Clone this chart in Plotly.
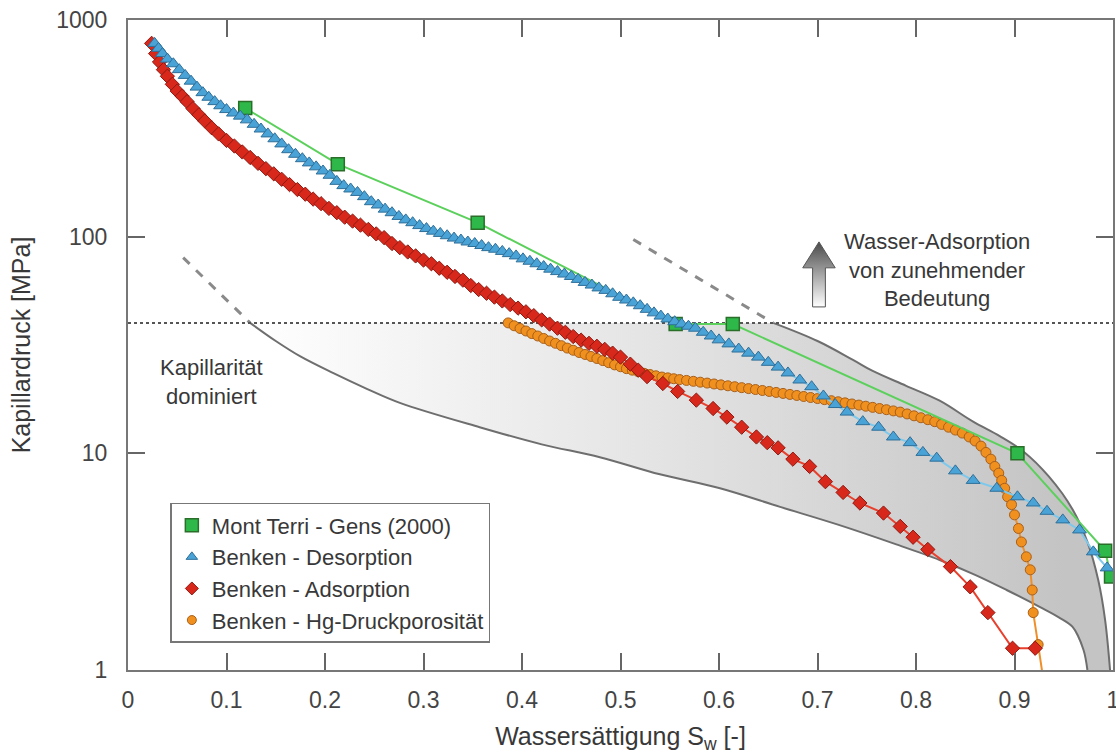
import plotly.graph_objects as go

# ---------------- data ----------------
gens_x = [0.119, 0.213, 0.355, 0.556, 0.614, 0.903, 0.992, 0.998]
gens_y = [392, 216, 116, 39.5, 39.5, 10.0, 3.55, 2.7]

des_x = [0.027, 0.031, 0.035, 0.040, 0.046, 0.052, 0.058, 0.064, 0.070, 0.076,
         0.082, 0.088, 0.094, 0.100, 0.107, 0.114, 0.121, 0.128, 0.135, 0.142,
         0.149, 0.156, 0.163, 0.170, 0.177, 0.184, 0.191, 0.198, 0.205, 0.212,
         0.219, 0.226, 0.233, 0.240, 0.247, 0.254, 0.261, 0.268, 0.275, 0.282,
         0.289, 0.296, 0.303, 0.310, 0.317, 0.324, 0.331, 0.338, 0.345, 0.352,
         0.359, 0.366, 0.373, 0.380, 0.387, 0.394, 0.401, 0.408, 0.415, 0.422,
         0.429, 0.436, 0.443, 0.450, 0.457, 0.464, 0.471, 0.478, 0.485, 0.492,
         0.499, 0.506, 0.513, 0.520, 0.527, 0.534, 0.541, 0.548, 0.555, 0.562,
         0.569, 0.576, 0.584, 0.592, 0.600, 0.610, 0.620, 0.630, 0.640, 0.650,
         0.660, 0.670, 0.682, 0.694, 0.706, 0.718, 0.730, 0.746, 0.762, 0.777,
         0.794, 0.807, 0.821, 0.840, 0.858, 0.882, 0.903, 0.919, 0.933, 0.949,
         0.966, 0.980, 0.994]
des_y = [780, 740, 700, 660, 628, 590, 555, 522, 490, 462,
         440, 420, 402, 386, 372, 360, 346, 330, 314, 298,
         283, 268, 252, 240, 229, 219, 210, 201, 192, 180,
         172, 166, 160, 153, 145, 140, 134, 129, 124, 119.5,
         116, 112.5, 109, 106, 103.5, 101, 98.5, 96.5, 94.5, 93,
         91, 89, 87.5, 85.5, 83.5, 81.5, 79, 77, 75, 72.8,
         70.8, 69, 67.2, 65.5, 63.5, 61.5, 59.8, 58, 56.5, 54.5,
         52.5, 51, 49.5, 48, 46.2, 44.5, 43, 41.7, 40.5, 39.5,
         38.6, 37.8, 36.2, 34.8, 33.4, 32, 30.3, 29.0, 27.8, 26.3,
         25.0, 23.5, 21.8, 20.3, 18.4, 16.8, 15.5, 14.0, 13.2, 11.9,
         11.2, 10.1, 9.5, 8.3, 7.5, 6.9, 6.3, 5.9, 5.4, 4.93,
         4.43, 3.51, 2.96]

ads_x = [0.024, 0.028, 0.032, 0.036, 0.040, 0.045, 0.050, 0.055, 0.060, 0.066,
         0.072, 0.078, 0.085, 0.092, 0.100, 0.108, 0.116, 0.124, 0.132, 0.140,
         0.148, 0.156, 0.164, 0.172, 0.180, 0.188, 0.196, 0.204, 0.212, 0.220,
         0.228, 0.236, 0.244, 0.252, 0.260, 0.268, 0.276, 0.284, 0.292, 0.300,
         0.308, 0.316, 0.324, 0.332, 0.340, 0.348, 0.356, 0.364, 0.372, 0.380,
         0.388, 0.396, 0.404, 0.412, 0.420, 0.428, 0.436, 0.444, 0.452, 0.460,
         0.468, 0.476, 0.484, 0.492, 0.500, 0.510, 0.518, 0.527, 0.543, 0.558,
         0.577, 0.594, 0.608, 0.623, 0.638, 0.649, 0.660, 0.675, 0.692, 0.708,
         0.726, 0.743, 0.767, 0.784, 0.797, 0.812, 0.835, 0.855, 0.873, 0.898,
         0.921]
ads_y = [780, 700, 640, 590, 550, 505, 470, 445, 420, 390,
         365, 342, 318, 298, 278, 262, 246, 232, 218, 206,
         195, 184, 174, 165, 157, 149, 142, 135, 129, 123,
         118, 113, 108, 103, 99, 93, 89, 85, 81.5, 78,
         75, 71.5, 68.5, 65.5, 63, 59.5, 57, 54.8, 52.6, 50.5,
         48.6, 46.8, 45, 43.2, 41.3, 39.5, 37.8, 36.2, 34.6, 33.3,
         32.2, 31.2, 30.2, 29.0, 27.8, 25.8, 24.2, 22.6, 21.0, 19.3,
         17.6, 16.1, 14.7, 13.2, 11.9, 11.2, 10.6, 9.4, 8.7, 7.4,
         6.6, 5.9, 5.3, 4.6, 4.1, 3.6, 3.0, 2.42, 1.84, 1.26,
         1.26]

hg_x = [0.386, 0.392, 0.398, 0.404, 0.410, 0.416, 0.422, 0.428, 0.434, 0.440,
        0.446, 0.452, 0.458, 0.464, 0.470, 0.476, 0.482, 0.488, 0.494, 0.500,
        0.506, 0.512, 0.518, 0.524, 0.530, 0.536, 0.542, 0.548, 0.554, 0.560,
        0.567, 0.574, 0.581, 0.588, 0.595, 0.602, 0.609, 0.616, 0.623, 0.630,
        0.637, 0.644, 0.651, 0.658, 0.665, 0.672, 0.679, 0.686, 0.693, 0.700,
        0.707, 0.714, 0.721, 0.728, 0.735, 0.742, 0.749, 0.756, 0.763, 0.770,
        0.777, 0.784, 0.791, 0.798, 0.805, 0.812, 0.819, 0.826, 0.833, 0.840,
        0.847, 0.854, 0.860, 0.866, 0.871, 0.876, 0.880, 0.884, 0.887, 0.890,
        0.893, 0.897, 0.900, 0.904, 0.907, 0.912, 0.916, 0.918, 0.919, 0.924,
        0.931]
hg_y = [40, 38.8, 37.7, 36.7, 35.7, 34.8, 33.9, 33.0, 32.2, 31.4,
        30.6, 29.9, 29.2, 28.6, 28.0, 27.4, 26.8, 26.2, 25.6, 25.1,
        24.6, 24.2, 23.8, 23.4, 23.1, 22.8, 22.5, 22.3, 22.1, 21.9,
        21.7, 21.5, 21.3, 21.1, 20.9, 20.7, 20.5, 20.3, 20.1, 19.9,
        19.7, 19.5, 19.3, 19.1, 18.9, 18.7, 18.5, 18.3, 18.1, 17.9,
        17.7, 17.5, 17.3, 17.1, 16.9, 16.7, 16.5, 16.3, 16.1, 15.9,
        15.7, 15.5, 15.2, 14.9, 14.6, 14.3, 14.0, 13.6, 13.2, 12.8,
        12.4, 11.9, 11.4, 10.8, 10.1, 9.4, 8.7, 8.1, 7.5, 6.9,
        6.3, 5.8, 5.2, 4.5, 3.9, 3.33, 2.9, 2.34, 1.84, 1.31,
        0.8]

# boundary curves of the shaded band
low_x = [0.124, 0.150, 0.175, 0.208, 0.243, 0.276, 0.357, 0.420, 0.479, 0.540,
         0.601, 0.662, 0.720, 0.780, 0.824, 0.860, 0.892, 0.926, 0.945, 0.959,
         0.970, 0.974]
low_y = [40, 33, 28, 23.5, 19.8, 17.1, 13.2, 11.0, 9.6, 8.0,
         6.9, 5.66, 4.7, 3.8, 3.22, 2.75, 2.34, 1.95, 1.75, 1.58,
         1.24, 1.0]
up_x = [0.655, 0.700, 0.736, 0.756, 0.790, 0.824, 0.858, 0.885, 0.909, 0.935,
        0.959, 0.974, 0.985, 0.992, 0.997]
up_y = [40, 33, 27, 24, 20.5, 17.5, 14, 12, 10.2, 7.8,
        5.5, 3.9, 2.6, 1.7, 1.0]
low_dash_x = [0.056, 0.124]
low_dash_y = [80, 40]
up_dash_x = [0.513, 0.655]
up_dash_y = [97, 40]

threshold = 40  # MPa dotted line

x_ticks = [0, 0.1, 0.2, 0.3, 0.4, 0.5, 0.6, 0.7, 0.8, 0.9, 1]
x_tick_text = ["0", "0.1", "0.2", "0.3", "0.4", "0.5", "0.6", "0.7", "0.8", "0.9", "1"]
y_ticks = [1, 10, 100, 1000]
y_tick_text = ["1", "10", "100", "1000"]

legend_names = ["Mont Terri - Gens (2000)", "Benken - Desorption",
                "Benken - Adsorption", "Benken - Hg-Druckporosität"]

FONT = "Liberation Sans, Arial, Helvetica, sans-serif"
TXT = "#383838"
GRAY = "#6e6e6e"

fig = go.Figure()

# shaded band (polygon built from the boundary curves)
band_x = [low_x[0]] + up_x + low_x[::-1]
band_y = [threshold] + up_y + low_y[::-1]
fig.add_trace(go.Scatter(
    x=band_x, y=band_y, mode="lines", fill="toself",
    line=dict(width=0, color="rgba(0,0,0,0)"),
    fillgradient=dict(type="horizontal", start=0.12, stop=0.95,
                      colorscale=[[0, "rgba(255,255,255,1)"], [0.5, "#e4e4e4"], [1, "#c4c4c4"]]),
    hoverinfo="skip", showlegend=False))

# boundary lines
fig.add_trace(go.Scatter(x=low_x, y=low_y, mode="lines", line=dict(color=GRAY, width=2),
                         line_shape="spline", showlegend=False, hoverinfo="skip"))
fig.add_trace(go.Scatter(x=up_x, y=up_y, mode="lines", line=dict(color=GRAY, width=2),
                         line_shape="spline", showlegend=False, hoverinfo="skip"))
fig.add_trace(go.Scatter(x=low_dash_x, y=low_dash_y, mode="lines",
                         line=dict(color="#8a8a8a", width=3, dash="dash"),
                         showlegend=False, hoverinfo="skip"))
fig.add_trace(go.Scatter(x=up_dash_x, y=up_dash_y, mode="lines",
                         line=dict(color="#8a8a8a", width=3, dash="dash"),
                         showlegend=False, hoverinfo="skip"))

# dotted threshold line
fig.add_trace(go.Scatter(x=[0, 1], y=[threshold, threshold], mode="lines",
                         line=dict(color="#555555", width=2, dash="dot"),
                         showlegend=False, hoverinfo="skip"))

# arrow (decoration)
arr_x = [0.7015, 0.718, 0.708, 0.708, 0.695, 0.695, 0.685, 0.7015]
arr_y = [94.6, 71.8, 71.8, 47.4, 47.4, 71.8, 71.8, 94.6]
fig.add_trace(go.Scatter(
    x=arr_x, y=arr_y, mode="lines", fill="toself",
    line=dict(color="#555555", width=1),
    fillgradient=dict(type="vertical", colorscale=[[0, "#ffffff"], [1, "#4a4a4a"]]),
    showlegend=False, hoverinfo="skip"))

# data series
fig.add_trace(go.Scatter(
    x=hg_x, y=hg_y, mode="lines+markers", showlegend=False,
    line=dict(color="#f08f2a", width=2),
    marker=dict(symbol="circle", size=10, color="#f0901e", line=dict(color="#a8601c", width=1))))
fig.add_trace(go.Scatter(
    x=ads_x, y=ads_y, mode="lines+markers", showlegend=False,
    line=dict(color="#e8402e", width=2),
    marker=dict(symbol="diamond", size=11, color="#d8281c", line=dict(color="#8e1a12", width=1))))
fig.add_trace(go.Scatter(
    x=gens_x, y=gens_y, mode="lines+markers", showlegend=False,
    line=dict(color="#5cd05c", width=2),
    marker=dict(symbol="square", size=13, color="#2eb84a", line=dict(color="#2a6e2a", width=1.5))))
fig.add_trace(go.Scatter(
    x=des_x, y=des_y, mode="lines+markers", showlegend=False,
    line=dict(color="#7ec8ec", width=2),
    marker=dict(symbol="triangle-up", size=12, color="#4aa3d6", line=dict(color="#2e6f99", width=1))))

# legend-only entries (markers only)
leg_styles = [
    dict(symbol="square", size=13, color="#2eb84a", line=dict(color="#2a6e2a", width=1.5)),
    dict(symbol="triangle-up", size=10, color="#4aa3d6", line=dict(color="#2e6f99", width=1)),
    dict(symbol="diamond", size=10, color="#d8281c", line=dict(color="#8e1a12", width=1)),
    dict(symbol="circle", size=9, color="#f0901e", line=dict(color="#a8601c", width=1)),
]
for name, mk in zip(legend_names, leg_styles):
    fig.add_trace(go.Scatter(x=[None], y=[None], mode="markers", name=name, marker=mk))

fig.add_annotation(x=0.085, y=1.33, xref="x", yref="y", text="Kapillarität<br>dominiert",
                   showarrow=False, font=dict(family=FONT, size=22, color=TXT), align="center")
fig.add_annotation(x=0.821, y=1.846, xref="x", yref="y",
                   text="Wasser-Adsorption<br>von zunehmender<br>Bedeutung",
                   showarrow=False, font=dict(family=FONT, size=22, color=TXT), align="center")

axis_common = dict(showline=True, linecolor="#777777", linewidth=2, mirror="ticks",
                   ticks="inside", ticklen=17, tickwidth=2, tickcolor="#666666",
                   showgrid=False, zeroline=False, automargin=False,
                   tickfont=dict(family=FONT, size=23, color="#444444"))

fig.update_layout(
    width=1116, height=754,
    margin=dict(l=128, r=3, t=20, b=84),
    paper_bgcolor="white", plot_bgcolor="white",
    font=dict(family=FONT, color=TXT),
    xaxis=dict(range=[0, 1], tickvals=x_ticks, ticktext=x_tick_text,
               ticklabeloverflow="allow",
               title=dict(text="Wassersättigung S<sub>w</sub> [-]",
                          font=dict(family=FONT, size=25, color=TXT), standoff=16),
               ticklabelstandoff=8, **axis_common),
    yaxis=dict(type="log", range=[0, 3], tickvals=y_ticks, ticktext=y_tick_text,
               title=dict(text="Kapillardruck [MPa]",
                          font=dict(family=FONT, size=25, color=TXT), standoff=18),
               ticklabelstandoff=14, **axis_common),
    legend=dict(x=0.043, y=0.257, xanchor="left", yanchor="top",
                bgcolor="white", bordercolor="#777777", borderwidth=1.5,
                font=dict(family=FONT, size=22, color=TXT), itemwidth=30),
    showlegend=True,
)

fig.write_html("out.html")
